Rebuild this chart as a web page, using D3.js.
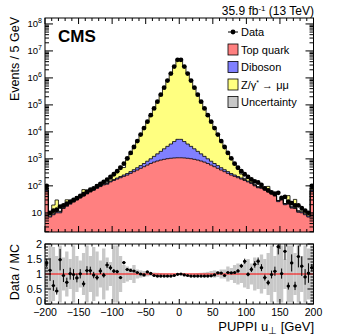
<!DOCTYPE html>
<html>
<head>
<meta charset="utf-8">
<script src="https://cdn.jsdelivr.net/npm/d3@7"></script>
<style>
  body { margin: 0; background: #fff; }
  svg text { font-family: "Liberation Sans", Arial, Helvetica, sans-serif; fill: #000; }
</style>
</head>
<body>
<svg width="349" height="335"></svg>
<script>
// 5 GeV bins from -200 to 200 (first / last bin hold the overflow)
const binLow = -200, binWidth = 5;

const dataCounts = [
  100, 10, 12, 13, 17, 19, 22, 26, 30, 35,
  42, 49, 61, 72, 81, 98, 117, 141, 169, 214,
  269, 347, 468, 661, 1047, 1660, 2754, 4571, 7943, 13800,
  23990, 41690, 74130, 131800, 239900, 436500, 794300, 1445000, 2630000, 4677000,
  4690000, 2630000, 1445000, 794300, 436500, 239900, 131800, 74130, 41690, 23990,
  13800, 7943, 4571, 2754, 1660, 1047, 661, 468, 347, 269,
  214, 174, 146, 133, 108, 81, 68, 57, 51, 55,
  36, 39, 26, 23, 19, 19, 15, 12, 10, 100
];
const topQuark = [
  63, 7, 8.5, 10, 10, 14.5, 17.5, 21, 25, 30,
  35.5, 42, 50, 59, 69, 81, 94, 108, 115, 140,
  158, 178, 200, 225, 250, 290, 335, 385, 447, 513,
  589, 676, 759, 832, 901, 961, 1013, 1054, 1080, 1096,
  1096, 1080, 1054, 1013, 961, 901, 832, 759, 676, 589,
  513, 447, 385, 335, 290, 250, 225, 200, 178, 158,
  140, 123, 100, 85, 81, 69, 59, 50, 42, 26,
  30, 20, 21, 15, 14.5, 10.5, 10, 8.5, 7, 63
];
const diboson = [
  8, 0.7, 0.8, 0.9, 1.0, 1.1, 1.3, 1.5, 1.7, 2.0,
  2.3, 2.7, 3.1, 3.7, 4.4, 5.2, 6.2, 7.5, 9, 11,
  14, 17, 22, 28, 36, 47, 62, 85, 115, 160,
  230, 330, 480, 700, 1000, 1400, 1900, 2500, 3300, 4200,
  4200, 3300, 2500, 1900, 1400, 1000, 700, 480, 330, 230,
  160, 115, 85, 62, 47, 36, 28, 22, 17, 14,
  11, 9, 7.5, 6.2, 5.2, 4.4, 3.7, 3.1, 2.7, 2.3,
  2.0, 1.7, 1.5, 1.3, 1.1, 1.0, 0.9, 0.8, 0.7, 8
];
const zMuMu = [
  2, 1.2, 10.2, 19.1, 0.5, 4.4, 11.6, 3.2, 3.8, 8.3,
  3.9, 28, 1.5, 2, 10.6, 25, 6, 31.5, 6, 26,
  73, 126, 310, 226, 624, 1145, 2107, 3883, 7381, 13560,
  21600, 39860, 76790, 140200, 256100, 467000, 851200, 1550200, 2764000, 4718700,
  4684700, 2705900, 1517500, 851200, 467000, 256100, 140200, 78470, 43820, 24700,
  13560, 7076, 3968, 2502, 1244, 721, 377, 203, 78, 17,
  65, 19, 3, 2, 3, 18.6, 33, 4.9, 2, 0.5,
  3.5, 0.5, 21, 0.5, 15.9, 0.5, 1, 4, 2, 11.6
];
// relative MC uncertainty (half width of the grey band in the ratio)
const mcUncert = [
  0.5, 0.95, 0.9, 0.6, 0.95, 0.55, 0.75, 0.5, 0.95, 0.6,
  0.45, 0.7, 0.95, 0.6, 0.9, 0.75, 0.45, 0.85, 0.55, 0.4,
  0.95, 0.95, 0.6, 0.3, 0.25, 0.2, 0.3, 0.15, 0.12, 0.1,
  0.08, 0.06, 0.05, 0.04, 0.03, 0.02, 0.02, 0.015, 0.01, 0.01,
  0.01, 0.01, 0.015, 0.02, 0.02, 0.03, 0.04, 0.05, 0.07, 0.1,
  0.12, 0.1, 0.15, 0.15, 0.25, 0.2, 0.3, 0.35, 0.3, 0.45,
  0.5, 0.35, 0.55, 0.5, 0.65, 0.5, 0.7, 0.95, 0.6, 0.95,
  0.95, 0.5, 0.95, 0.95, 0.7, 0.95, 0.6, 0.95, 0.85, 0.95
];

const xTicks = [-200, -150, -100, -50, 0, 50, 100, 150, 200];
const ratioTicks = [0, 0.5, 1, 1.5, 2];
const legendItems = ["Data", "Top quark", "Diboson", "Z/γ* → μμ", "Uncertainty"];

const colors = { top: "#ff8080", vv: "#8080ff", z: "#ffff80", unc: "#c8c8c8" };

const svg = d3.select("svg");
const L = 45, R = 313.5;
const upTop = 18, upBot = 232, loTop = 244, loBot = 304;

const x = d3.scaleLinear().domain([-200, 200]).range([L, R]);
const y = d3.scaleLog().domain([1.95, 1.66e8]).range([upBot, upTop]);
const yr = d3.scaleLinear().domain([0, 2]).range([loBot, loTop]);

const bins = dataCounts.map((d, i) => {
  const lo = binLow + i * binWidth;
  const c1 = topQuark[i], c2 = c1 + diboson[i], c3 = c2 + zMuMu[i];
  return { lo, hi: lo + binWidth, mid: lo + binWidth / 2, data: d, c1, c2, c3, unc: mcUncert[i] };
});

svg.append("defs").append("clipPath").attr("id", "upclip")
  .append("rect").attr("x", L).attr("y", upTop).attr("width", R - L).attr("height", upBot - upTop);
svg.select("defs").append("clipPath").attr("id", "loclip")
  .append("rect").attr("x", L).attr("y", loTop).attr("width", R - L).attr("height", loBot - loTop);

// ---------- upper panel ----------
const up = svg.append("g").attr("clip-path", "url(#upclip)");
function stepPts(key) {
  const pts = [];
  bins.forEach(b => { pts.push([b.lo, b[key]]); pts.push([b.hi, b[key]]); });
  return pts;
}
const ymin = y.domain()[0];
const area = d3.area().x(d => x(d[0])).y0(upBot).y1(d => y(Math.max(d[1], ymin)));
const line = d3.line().x(d => x(d[0])).y(d => y(Math.max(d[1], ymin)));

[["c3", colors.z], ["c2", colors.vv], ["c1", colors.top]].forEach(([k, c]) => {
  up.append("path").attr("d", area(stepPts(k))).attr("fill", c);
});
[["c3"], ["c2"], ["c1"]].forEach(([k]) => {
  up.append("path").attr("d", line(stepPts(k))).attr("fill", "none")
    .attr("stroke", "#000").attr("stroke-width", 0.8);
});

up.selectAll(".dot").data(bins).enter().append("circle")
  .attr("cx", d => x(d.mid)).attr("cy", d => y(d.data)).attr("r", 2.4).attr("fill", "#000");
up.selectAll(".xerr").data(bins).enter().append("line")
  .attr("x1", d => x(d.lo)).attr("x2", d => x(d.hi))
  .attr("y1", d => y(d.data)).attr("y2", d => y(d.data))
  .attr("stroke", "#000").attr("stroke-width", 0.8);

// ---------- lower panel ----------
const lo = svg.append("g").attr("clip-path", "url(#loclip)");
lo.selectAll(".band").data(bins).enter().append("rect")
  .attr("x", d => x(d.lo)).attr("width", d => x(d.hi) - x(d.lo))
  .attr("y", d => yr(Math.min(2, 1 + d.unc)))
  .attr("height", d => yr(Math.max(0, 1 - d.unc)) - yr(Math.min(2, 1 + d.unc)))
  .attr("fill", colors.unc);
lo.append("line").attr("x1", L).attr("x2", R).attr("y1", yr(1)).attr("y2", yr(1))
  .attr("stroke", "#ff0000").attr("stroke-width", 1);

const rat = bins.map(b => ({ ...b, r: b.data / b.c3, e: Math.sqrt(b.data) / b.c3 }));
lo.selectAll(".rerr").data(rat).enter().append("line")
  .attr("x1", d => x(d.mid)).attr("x2", d => x(d.mid))
  .attr("y1", d => yr(d.r - d.e)).attr("y2", d => yr(d.r + d.e))
  .attr("stroke", "#000").attr("stroke-width", 1);
lo.selectAll(".rxerr").data(rat).enter().append("line")
  .attr("x1", d => x(d.lo)).attr("x2", d => x(d.hi))
  .attr("y1", d => yr(d.r)).attr("y2", d => yr(d.r))
  .attr("stroke", "#000").attr("stroke-width", 1);
lo.selectAll(".rdot").data(rat).enter().append("circle")
  .attr("cx", d => x(d.mid)).attr("cy", d => yr(d.r)).attr("r", 1.6).attr("fill", "#000");

// ---------- frames and ticks ----------
const ax = svg.append("g").attr("stroke", "#000").attr("stroke-width", 1);
function tick(x1, y1, x2, y2) { ax.append("line").attr("x1", x1).attr("y1", y1).attr("x2", x2).attr("y2", y2); }

for (let v = -200; v <= 200; v += 10) {
  const big = v % 50 === 0, px = x(v);
  const h = big ? 6 : 3;
  tick(px, upBot, px, upBot - h); tick(px, upTop, px, upTop + h);
  const h2 = big ? 5 : 2.5;
  tick(px, loBot, px, loBot - h2); tick(px, loTop, px, loTop + h2);
}
for (let e = 0; e <= 8; e++) {
  for (let m = 1; m <= 9; m++) {
    const v = m * Math.pow(10, e);
    if (v < y.domain()[0] || v > y.domain()[1]) continue;
    const py = y(v), h = m === 1 ? 8 : 4;
    tick(L, py, L + h, py); tick(R, py, R - h, py);
  }
}
for (let v = 0; v <= 2.001; v += 0.1) {
  const big = Math.abs(v * 2 - Math.round(v * 2)) < 1e-6, py = yr(v);
  const h = big ? 6 : 3;
  tick(L, py, L + h, py); tick(R, py, R - h, py);
}
ax.append("rect").attr("x", L).attr("y", upTop).attr("width", R - L).attr("height", upBot - upTop).attr("fill", "none");
ax.append("rect").attr("x", L).attr("y", loTop).attr("width", R - L).attr("height", loBot - loTop).attr("fill", "none");

// ---------- labels ----------
for (let e = 1; e <= 8; e++) {
  const t = svg.append("text").attr("x", 42).attr("y", y(Math.pow(10, e)) + 3.5)
    .attr("text-anchor", "end").attr("font-size", 9.5);
  t.append("tspan").text("10");
  if (e > 1) t.append("tspan").attr("dy", -4).attr("font-size", 7).text(e);
}
ratioTicks.forEach(v => {
  svg.append("text").attr("x", 42).attr("y", Math.min(yr(v) + 4, 305)).attr("text-anchor", "end")
    .attr("font-size", 11).text(v);
});
xTicks.forEach(v => {
  svg.append("text").attr("x", x(v)).attr("y", 316).attr("text-anchor", "middle")
    .attr("font-size", 10.5).text(v < 0 ? "\u2212" + (-v) : v);
});

svg.append("text").attr("transform", "translate(19,17) rotate(-90)").attr("text-anchor", "end")
  .attr("font-size", 12.5).text("Events / 5 GeV");
svg.append("text").attr("transform", "translate(19,244) rotate(-90)").attr("text-anchor", "end")
  .attr("font-size", 12.5).text("Data / MC");
const xt = svg.append("text").attr("x", 314).attr("y", 331).attr("text-anchor", "end").attr("font-size", 13);
xt.append("tspan").text("PUPPI u");
xt.append("tspan").attr("dy", 3).attr("font-size", 10).text("\u22A5");
xt.append("tspan").attr("dy", -3).text(" [GeV]");

const lum = svg.append("text").attr("x", 314).attr("y", 15).attr("text-anchor", "end").attr("font-size", 12);
lum.append("tspan").text("35.9 fb");
lum.append("tspan").attr("dy", -4).attr("font-size", 8).text("-1");
lum.append("tspan").attr("dy", 4).text(" (13 TeV)");

svg.append("text").attr("x", 58).attr("y", 42).attr("font-size", 17).attr("font-weight", "bold").text("CMS");

// ---------- legend ----------
const lg = svg.append("g");
const rowY = [32, 49.5, 67, 84.5, 102];
lg.append("line").attr("x1", 228).attr("x2", 238).attr("y1", rowY[0]).attr("y2", rowY[0]).attr("stroke", "#000");
lg.append("circle").attr("cx", 233).attr("cy", rowY[0]).attr("r", 2.4).attr("fill", "#000");
[colors.top, colors.vv, colors.z, colors.unc].forEach((c, i) => {
  lg.append("rect").attr("x", 228).attr("y", rowY[i + 1] - 5.5).attr("width", 10).attr("height", 11)
    .attr("fill", c).attr("stroke", "#000").attr("stroke-width", 0.8);
});
legendItems.forEach((s, i) => {
  const t = lg.append("text").attr("x", 241).attr("y", rowY[i] + 4).attr("font-size", 11);
  if (s.startsWith("Z/")) {
    t.append("tspan").text("Z/γ");
    t.append("tspan").attr("dy", -4).attr("font-size", 7).text("*");
    t.append("tspan").attr("dy", 4).text(" → μμ");
  } else t.text(s);
});
</script>
</body>
</html>
